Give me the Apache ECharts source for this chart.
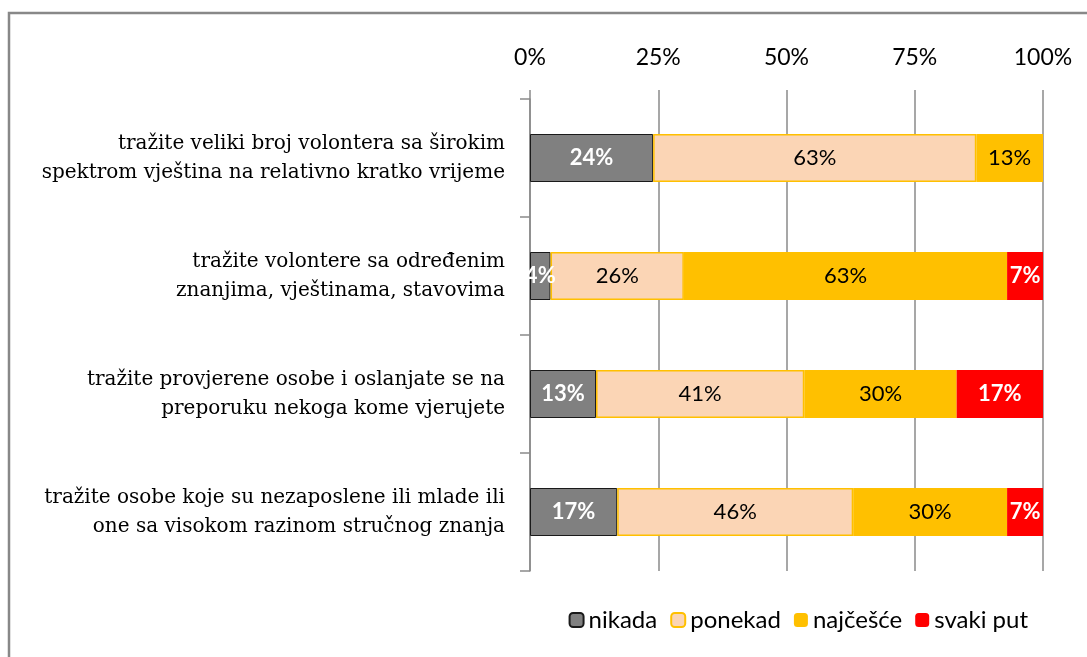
<!DOCTYPE html>
<html>
<head>
<meta charset="utf-8">
<script src="https://cdn.jsdelivr.net/npm/echarts@6/dist/echarts.min.js"></script>
<style>
  html, body { margin: 0; padding: 0; background: #fff; }
  #chart { width: 1087px; height: 657px; }
</style>
</head>
<body>
<div id="chart"></div>
<script>
// categories (top to bottom)
var categories = [
  "tražite veliki broj volontera sa širokim\nspektrom vještina na relativno kratko vrijeme",
  "tražite volontere sa određenim\nznanjima, vještinama, stavovima",
  "tražite provjerene osobe i oslanjate se na\npreporuku nekoga kome vjerujete",
  "tražite osobe koje su nezaposlene ili mlade ili\none sa visokom razinom stručnog znanja"
];
var seriesNames = ["nikada", "ponekad", "najčešće", "svaki put"];
// percentages as shown in the labels
var nikada = [24, 4, 13, 17];
var ponekad = [63, 26, 41, 46];
var najcesce = [13, 63, 30, 30];
var svakiPut = [0, 7, 17, 7];
var xTicks = [0, 25, 50, 75, 100];

var rows = [nikada, ponekad, najcesce, svakiPut];
var rowSums = categories.map(function (c, i) {
  return rows.reduce(function (s, r) { return s + r[i]; }, 0);
});

var colors = ["#808080", "#FBD5B5", "#FFC000", "#FF0000"];
var borders = [
  { borderColor: "#1a1a1a", borderWidth: 1 },
  { borderColor: "#FFC000", borderWidth: 1.5 },
  { borderWidth: 0 },
  { borderWidth: 0 }
];
var labelStyles = [
  { color: "#fff", fontWeight: "bold" },
  { color: "#000", fontWeight: "normal" },
  { color: "#000", fontWeight: "normal" },
  { color: "#fff", fontWeight: "bold" }
];

var series = rows.map(function (r, k) {
  return {
    name: seriesNames[k],
    type: "bar",
    stack: "total",
    barWidth: 48,
    itemStyle: Object.assign({ color: colors[k] }, borders[k]),
    label: {
      show: true,
      position: "inside",
      fontFamily: "Lato",
      fontSize: 22,
      color: labelStyles[k].color,
      fontWeight: labelStyles[k].fontWeight,
      formatter: function (p) {
        var raw = r[p.dataIndex];
        return raw ? raw + "%" : "";
      }
    },
    data: r.map(function (v, i) { return v / rowSums[i] * 100; })
  };
});

var chart = echarts.init(document.getElementById("chart"));
chart.setOption({
  animation: false,
  backgroundColor: "#fff",
  graphic: [{
    type: "rect",
    shape: { x: 9, y: 13, width: 1100, height: 700 },
    style: { fill: "none", stroke: "#888", lineWidth: 2.5 },
    silent: true
  }],
  legend: {
    data: seriesNames,
    right: 54,
    top: 603,
    itemWidth: 14,
    itemHeight: 14,
    itemGap: 13,
    textStyle: { fontFamily: "Lato", fontSize: 24, color: "#000" }
  },
  grid: { left: 530, right: 44, top: 99, bottom: 86, containLabel: false },
  xAxis: {
    type: "value",
    position: "top",
    min: 0,
    max: 100,
    interval: 25,
    axisLine: { show: false },
    axisTick: { show: true, length: 9, lineStyle: { color: "#8a8a8a", width: 1.5 } },
    splitLine: { show: true, lineStyle: { color: "#8a8a8a", width: 1.5 } },
    axisLabel: {
      margin: 30,
      fontFamily: "Lato",
      fontSize: 23,
      color: "#000",
      formatter: function (v) { return xTicks.indexOf(v) >= 0 ? v + "%" : ""; }
    }
  },
  yAxis: {
    type: "category",
    inverse: true,
    data: categories,
    axisLine: { show: true, lineStyle: { color: "#8a8a8a", width: 1.5 } },
    axisTick: { show: true, length: 10, lineStyle: { color: "#8a8a8a", width: 1.5 } },
    axisLabel: {
      margin: 25,
      fontFamily: "DejaVu Serif",
      fontSize: 20,
      lineHeight: 29,
      color: "#000",
      align: "right"
    }
  },
  series: series
});
</script>
</body>
</html>
